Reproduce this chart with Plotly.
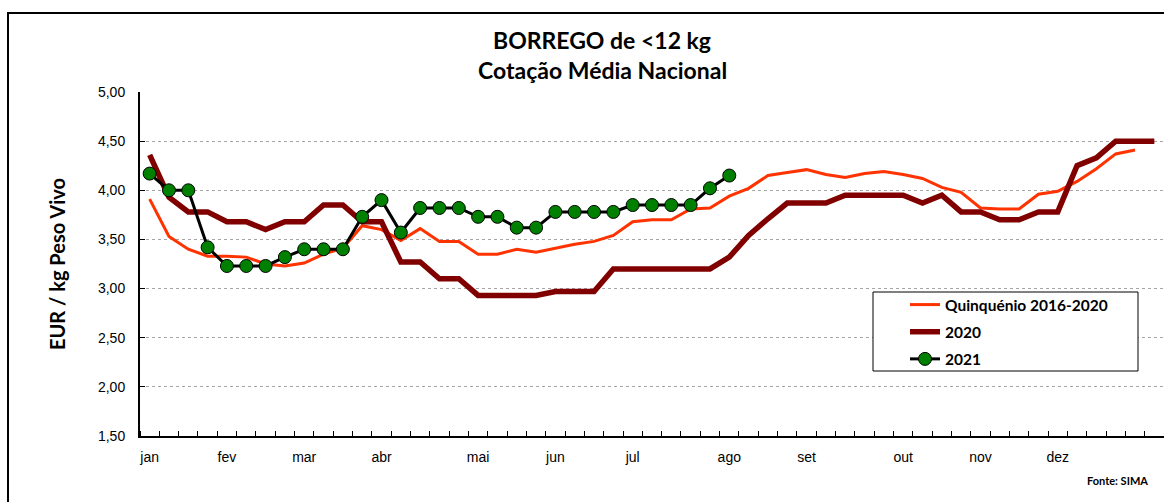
import plotly.graph_objects as go

weeks = list(range(1, 54))
month_weeks = [1, 5, 9, 13, 18, 22, 26, 31, 35, 40, 44, 48]
month_labels = ["jan", "fev", "mar", "abr", "mai", "jun", "jul", "ago", "set", "out", "nov", "dez"]

quinquenio = [3.91, 3.53, 3.40, 3.33, 3.33, 3.32, 3.25, 3.23, 3.26, 3.35,
              3.41, 3.64, 3.60, 3.49, 3.61, 3.48, 3.48, 3.35, 3.35, 3.40,
              3.37, 3.41, 3.45, 3.48, 3.54, 3.68, 3.70, 3.70, 3.81, 3.82,
              3.94, 4.02, 4.15, 4.18, 4.21, 4.16, 4.13, 4.17, 4.19, 4.16,
              4.12, 4.03, 3.98, 3.82, 3.81, 3.81, 3.96, 3.99, 4.09, 4.22,
              4.37, 4.41]
y2020 = [4.36, 3.93, 3.78, 3.78, 3.68, 3.68, 3.60, 3.68, 3.68, 3.85,
         3.85, 3.68, 3.68, 3.27, 3.27, 3.10, 3.10, 2.93, 2.93, 2.93,
         2.93, 2.97, 2.97, 2.97, 3.20, 3.20, 3.20, 3.20, 3.20, 3.20,
         3.32, 3.54, 3.71, 3.87, 3.87, 3.87, 3.95, 3.95, 3.95, 3.95,
         3.87, 3.95, 3.78, 3.78, 3.70, 3.70, 3.78, 3.78, 4.25, 4.33,
         4.50, 4.50, 4.50]
y2021 = [4.17, 4.00, 4.00, 3.42, 3.23, 3.23, 3.23, 3.32, 3.40, 3.40,
         3.40, 3.73, 3.90, 3.57, 3.82, 3.82, 3.82, 3.73, 3.73, 3.62,
         3.62, 3.78, 3.78, 3.78, 3.78, 3.85, 3.85, 3.85, 3.85, 4.02,
         4.15]

BOLD = "Lato, Carlito, Calibri, sans-serif"
TICK = "Liberation Sans, Arial, sans-serif"

W, H = 1164, 502
L, R, T, B = 140, 0, 92, 66
PW, PH = W - L - R, H - T - B


def px(xp):
    return (xp - L) / PW


def py(yp):
    return (H - B - yp) / PH


fig = go.Figure()
fig.add_trace(go.Scatter(
    x=weeks[:len(quinquenio)], y=quinquenio, mode="lines",
    name="<b>Quinquénio 2016-2020</b>", legendgroup="a",
    line=dict(color="#FF3300", width=3)))
fig.add_trace(go.Scatter(
    x=weeks[:len(y2020)], y=y2020, mode="lines",
    name="<b>2020</b>", legendgroup="b",
    line=dict(color="#800000", width=5.5)))
fig.add_trace(go.Scatter(
    x=weeks[:len(y2021)], y=y2021, mode="lines+markers",
    name="<b>2021</b>", legendgroup="c",
    line=dict(color="#000000", width=3),
    marker=dict(color="#008000", size=13, line=dict(color="#000000", width=1))))

fig.update_layout(
    width=W, height=H,
    margin=dict(l=L, r=R, t=T, b=B),
    paper_bgcolor="white", plot_bgcolor="white",
    separators=",.",
    showlegend=True,
    legend=dict(
        x=px(905), y=py(288), xanchor="left", yanchor="top",
        borderwidth=0, bgcolor="rgba(0,0,0,0)",
        font=dict(family=BOLD, size=15.5, color="#000000"),
        tracegroupgap=4,
    ),
    font=dict(family=TICK, size=14, color="#000000"),
)

fig.update_xaxes(
    range=[0.5, 53.5], tickmode="array", tickvals=month_weeks, ticktext=month_labels,
    ticks="", showgrid=False, zeroline=False,
    showline=True, linecolor="#000000", linewidth=2,
    tickfont=dict(family=TICK, size=14, color="#000000"),
    ticklabelstandoff=7,
    minor=dict(ticks="inside", tick0=0.5, dtick=1, ticklen=5, tickcolor="#000000", tickwidth=1, showgrid=False),
)
fig.update_yaxes(
    range=[1.5, 5.0], dtick=0.5, tick0=1.5, tickformat=".2f",
    ticks="inside", ticklen=5, tickcolor="#000000", tickwidth=1,
    showgrid=True, gridcolor="#A6A6A6", griddash="dot", gridwidth=1,
    zeroline=False, showline=True, linecolor="#000000", linewidth=2,
    tickfont=dict(family=TICK, size=14, color="#000000"),
    ticklabelstandoff=10,
    title=dict(text="<b>EUR / kg Peso Vivo</b>", font=dict(family=BOLD, size=20, color="#000000"), standoff=27),
)

fig.add_annotation(text="<b>BORREGO de &lt;12 kg</b>", xref="paper", yref="paper",
                   x=px(602), y=py(40), showarrow=False,
                   xanchor="center", yanchor="middle",
                   font=dict(family=BOLD, size=23, color="#000000"))
fig.add_annotation(text="<b>Cotação Média Nacional</b>", xref="paper", yref="paper",
                   x=px(602), y=py(70), showarrow=False,
                   xanchor="center", yanchor="middle",
                   font=dict(family=BOLD, size=23, color="#000000"))
fig.add_annotation(text="<b>Fonte: SIMA</b>", xref="paper", yref="paper",
                   x=px(1150), y=py(480), showarrow=False,
                   xanchor="right", yanchor="middle",
                   font=dict(family=BOLD, size=11, color="#000000"))

# legend frame
fig.add_shape(type="rect", xref="paper", yref="paper",
              x0=px(873), x1=px(1138), y0=py(371), y1=py(292),
              line=dict(color="#000000", width=1), fillcolor="white", layer="above")
# outer chart frame
fig.add_shape(type="rect", xref="paper", yref="paper",
              x0=px(8), x1=px(1180), y0=py(520), y1=py(13),
              line=dict(color="#000000", width=2), layer="below")

fig.write_html("out.html", config={"displayModeBar": False},
               post_script="document.body.style.margin='0';")
